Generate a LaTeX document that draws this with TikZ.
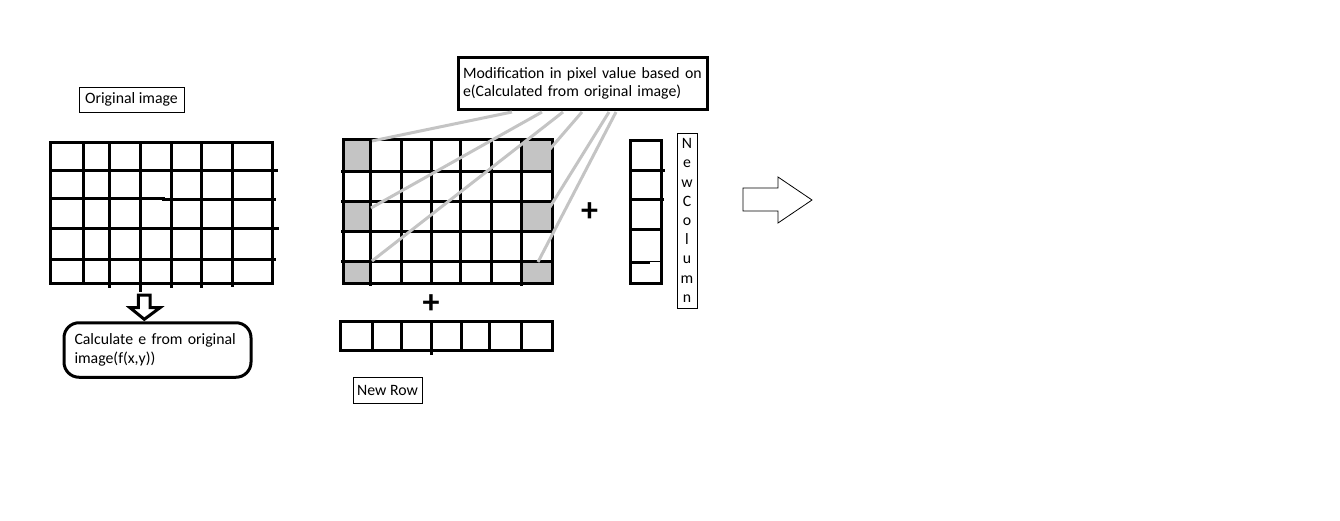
\documentclass[tikz,border=0pt]{standalone}
\usepackage{fontspec}
\setmainfont{Carlito}
\begin{document}
\begin{tikzpicture}[x=1pt,y=-1pt,
  gridline/.style={line width=3pt, black},
  cellfill/.style={fill=black!23, draw=none},
  pointer/.style={line width=3pt, draw=black!23},
  thinbox/.style={draw, line width=0.8pt, inner sep=0pt, font=\fontsize{15.8}{18.6}\selectfont},
  thickbox/.style={draw, line width=3pt, inner sep=0pt, font=\fontsize{15.8}{18.6}\selectfont},
  plussign/.style={font=\fontsize{34}{34}\selectfont\bfseries, inner sep=0pt},
  blockarrow/.style={draw, fill=white}
]
\useasboundingbox[fill=white] (0,0) rectangle (1340,521);

% ---------- Original image label ----------
\node[thinbox, minimum width=105pt, minimum height=25pt] (orig) at (131.5,99.5) {Original image};

% ---------- Left grid (original image) ----------
\draw[gridline] (50,143) rectangle (272,283);
\foreach \x/\yb in {83/283,109/288,140/292,171/288,201/288,232/287}
  \draw[gridline] (\x,143) -- (\x,\yb);
\draw[gridline] (50,171) -- (278,171);
\draw[gridline] (50,199) -- (163,199) -- (163,200) -- (276,200);
\draw[gridline] (50,229) -- (279,229);
\draw[gridline] (50,259) -- (276,259);

% ---------- Down block arrow ----------
\draw[blockarrow, line width=3pt] (138.3,295) -- (150,295) -- (150,307.7) -- (160,307.7)
  -- (144.3,319.3) -- (130,307.7) -- (138.3,307.7) -- cycle;

% ---------- Calculate box ----------
\node[thickbox, rounded corners=15pt, minimum width=187pt, minimum height=54.5pt,
      text width=166pt, align=left] (calc) at (157.5,350)
      {Calculate e from original\\image(f(x,y))};

% ---------- Middle grid (modified image) ----------
\fill[cellfill] (343,140) rectangle (370.7,171.7);
\fill[cellfill] (343,201.7) rectangle (370.7,231.7);
\fill[cellfill] (343,261.7) rectangle (370.7,283.7);
\fill[cellfill] (521.7,140) rectangle (552.7,171.7);
\fill[cellfill] (521.7,201.7) rectangle (552.7,231.7);
\fill[cellfill] (521.7,261.7) rectangle (552.7,283.7);
\draw[gridline] (343,140) rectangle (552.7,283.7);
\foreach \x/\yb in {370.7/286,401.7/283.7,431.7/283.7,460.7/283.7,491.7/283.7,521.7/286}
  \draw[gridline] (\x,140) -- (\x,\yb);
\foreach \y in {171.7,201.7,231.7,261.7}
  \draw[gridline] (341,\y) -- (552.7,\y);

% ---------- Modification box and pointers ----------
\node[thickbox, minimum width=249pt, minimum height=52pt,
      text width=240pt, align=left] (mod) at (583,83.5)
      {Modification in pixel value based on\\e(Calculated from original image)};
\coordinate (m1) at (512,112);
\coordinate (m2) at (542,112);
\coordinate (m3) at (563,112);
\coordinate (m4) at (582,112);
\coordinate (m5) at (609,112);
\coordinate (m6) at (616,112);
\coordinate (c1) at (372,141);
\coordinate (c2) at (371,208);
\coordinate (c3) at (372,261);
\coordinate (c4) at (550,149);
\coordinate (c5) at (550,207);
\coordinate (c6) at (538,262);
\foreach \i in {1,...,6}
  \draw[pointer] (m\i) -- (c\i);

% ---------- Plus signs ----------
\node[plussign] (plusr) at (589.5,212.5) {+};
\node[plussign] (plusb) at (431,304.5) {+};

% ---------- New column ----------
\draw[gridline] (630.3,141) rectangle (661.7,283.7);
\draw[gridline] (630.3,170.7) -- (665,170.7);
\draw[gridline] (630.3,200) -- (664,200);
\draw[gridline] (630.3,229.3) -- (661.7,229.3);
\draw[gridline] (632,262.3) -- (650,262.3);
\draw[line width=1.5pt] (650,261.7) -- (661.7,261.7);

\node[thinbox, minimum width=20pt, minimum height=175pt, align=center,
      font=\fontsize{15.8}{19.2}\selectfont] (newcol) at (687,220.5)
      {N\\e\\w\\C\\o\\l\\u\\m\\n};

% ---------- New row ----------
\draw[gridline] (340.3,321.3) rectangle (552,350.3);
\foreach \x/\yb in {372.7/350.3,401/350.3,431.7/355,461.7/350.3,489.3/350.3,521.7/350.3}
  \draw[gridline] (\x,321.3) -- (\x,\yb);

\node[thinbox, minimum width=69pt, minimum height=26pt] (newrow) at (387.5,390) {New Row};

% ---------- Right block arrow ----------
\draw[blockarrow, line width=0.8pt] (743,188) -- (778,188) -- (778,177) -- (812,200)
  -- (778,223) -- (778,211) -- (743,211) -- cycle;
\end{tikzpicture}
\end{document}
